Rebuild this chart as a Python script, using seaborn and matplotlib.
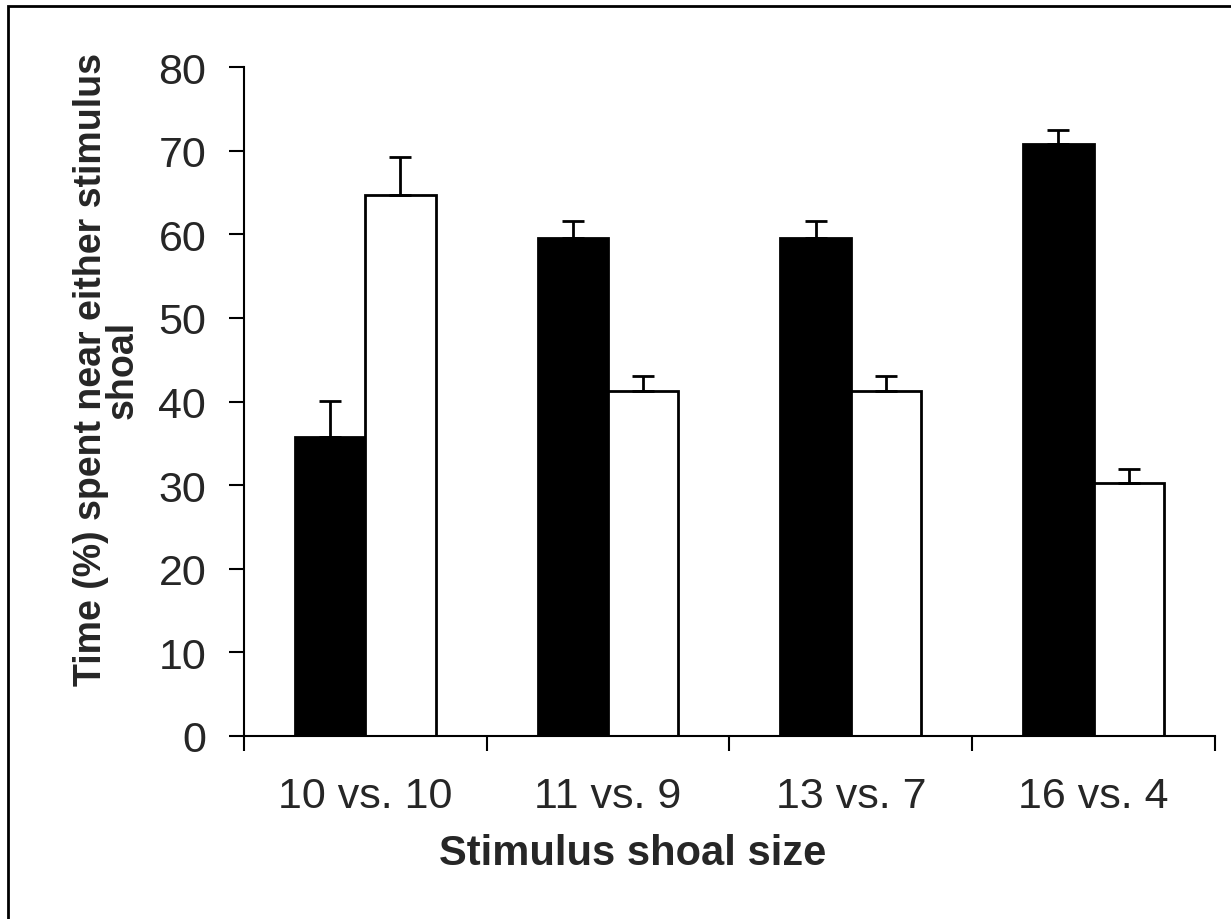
import numpy as np
import pandas as pd
import seaborn as sns
import matplotlib.pyplot as plt
from matplotlib.patches import Rectangle

# data
groups = ["10 vs. 10", "11 vs. 9", "13 vs. 7", "16 vs. 4"]
black_vals = [35.8, 59.6, 59.6, 70.8]
white_vals = [64.7, 41.2, 41.2, 30.2]
black_err = [4.3, 2.0, 2.0, 1.7]
white_err = [4.6, 1.9, 1.9, 1.7]

sns.set_style("white")
plt.rcParams['font.family'] = ['Liberation Sans', 'DejaVu Sans']

df = pd.DataFrame({
    "group": groups * 2,
    "series": ["larger"] * 4 + ["smaller"] * 4,
    "value": black_vals + white_vals,
    "err": black_err + white_err,
})

fig = plt.figure(figsize=(12.31, 9.20), dpi=100)
ax = fig.add_axes([0.198, 0.199, 0.789, 0.727])

sns.barplot(data=df, x="group", y="value", hue="series", order=groups,
            palette=["black", "white"], edgecolor="black", linewidth=2,
            width=0.58, errorbar=None, legend=False, ax=ax)

# upper-only error bars
for cont, errs in zip(ax.containers, [black_err, white_err]):
    xs = [p.get_x() + p.get_width() / 2 for p in cont.patches]
    hs = [p.get_height() for p in cont.patches]
    ax.errorbar(xs, hs, yerr=[np.zeros(len(errs)), errs], fmt="none",
                ecolor="black", elinewidth=2, capsize=8, capthick=2)

ax.set_xlim(-0.5, 3.5)
ax.set_ylim(0, 80)
ax.set_yticks(range(0, 81, 10))
ax.set_xticks([-0.5, 0.5, 1.5, 2.5, 3.5])
ax.set_xticklabels([])
ax.set_xticks(range(4), minor=True)
ax.set_xticklabels(groups, minor=True)

ax.tick_params(axis="x", which="major", bottom=True, direction="out",
               length=11, width=1.5, color="black")
ax.tick_params(axis="x", which="minor", bottom=True, length=0, pad=29, labelsize=31)
ax.tick_params(axis="y", left=True, direction="out", length=11, width=1.5,
               color="black", pad=16, labelsize=31)

for side in ["top", "right"]:
    ax.spines[side].set_visible(False)
for side in ["left", "bottom"]:
    ax.spines[side].set_color("black")
    ax.spines[side].set_linewidth(1.5)

ax.set_xlabel("Stimulus shoal size", fontsize=30, fontweight="bold")
ax.set_ylabel("Time (%) spent near either stimulus\nshoal", fontsize=27,
              fontweight="bold", linespacing=0.85)
ax.xaxis.set_label_coords(0.40, -0.145)
ax.yaxis.set_label_coords(-0.106, 0.549)

# outer frame
fig.patches.append(Rectangle((8 / 1231, -0.05), 1.1, 1.05 - 7 / 920,
                             transform=fig.transFigure, fill=False,
                             edgecolor="black", linewidth=2))

fig.savefig("out.png", dpi=100)
